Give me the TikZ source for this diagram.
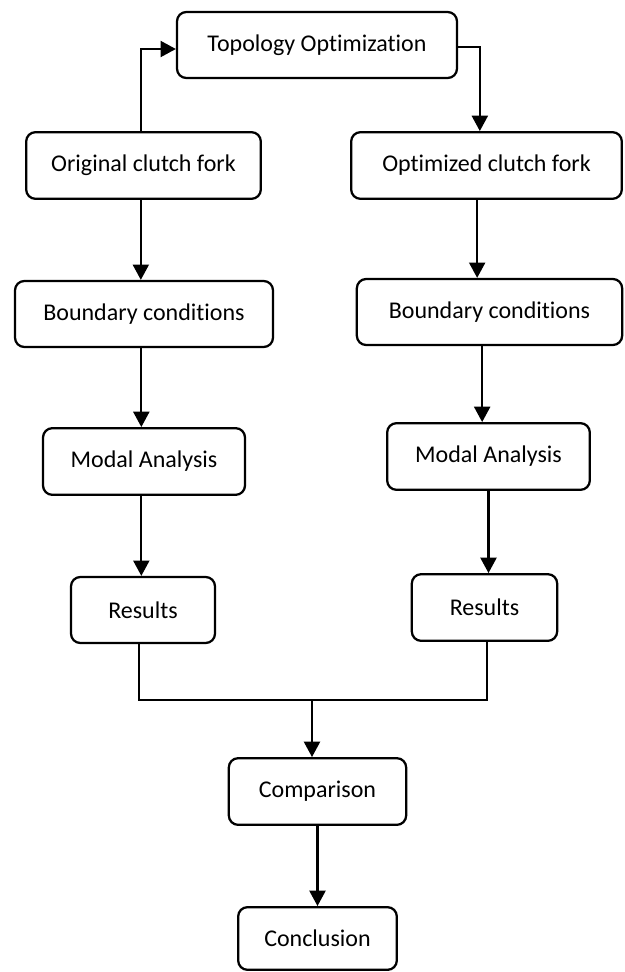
\documentclass[tikz,border=0pt]{standalone}
\usepackage{fontspec}
\setmainfont{Carlito}[Ligatures={NoCommon}]
\usetikzlibrary{arrows.meta}
\begin{document}
\begin{tikzpicture}[x=0.75pt,y=-0.75pt,
  box/.style={draw=black, line width=1.7pt, rounded corners=7pt, fill=white,
    inner sep=0pt, align=center, font=\fontsize{18pt}{21pt}\selectfont},
  conn/.style={line width=1.6pt, draw=black},
  arr/.style={conn, -{Triangle[width=12pt,length=11.5pt]}}]
\useasboundingbox (0,0) rectangle (625,972);
\node[box, minimum width=210pt, minimum height=49.5pt] (topo) at (317,45) {Topology Optimization};
\node[box, minimum width=176pt, minimum height=50pt] (orig) at (143.5,165.5) {Original clutch fork};
\node[box, minimum width=203pt, minimum height=50pt] (optz) at (486.5,165.5) {Optimized clutch fork};
\node[box, minimum width=193.5pt, minimum height=49.5pt] (bcL) at (144,314) {Boundary conditions};
\node[box, minimum width=199pt, minimum height=49.5pt] (bcR) at (489.5,312) {Boundary conditions};
\node[box, minimum width=151.5pt, minimum height=50pt] (maL) at (144,461.5) {Modal Analysis};
\node[box, minimum width=152pt, minimum height=50pt] (maR) at (488.5,456.5) {Modal Analysis};
\node[box, minimum width=108pt, minimum height=49.5pt] (resL) at (143,610) {Results};
\node[box, minimum width=109pt, minimum height=50pt] (resR) at (484.5,607.5) {Results};
\node[box, minimum width=133pt, minimum height=50pt] (comp) at (317.5,791.5) {Comparison};
\node[box, minimum width=119pt, minimum height=47pt] (concl) at (317.5,938.5) {Conclusion};
\coordinate (j) at (312,700);
% top connectors
\draw[arr] ([xshift=-2pt]orig.north) |- ([yshift=-3pt]topo.west);
\draw[arr] ([yshift=-1.5pt]topo.east) -| ([xshift=-5pt]optz.north);
% left column
\draw[arr] ([xshift=-2pt]orig.south) -- ([xshift=-2pt]orig.south |- bcL.north);
\draw[arr] ([xshift=-2pt]bcL.south) -- ([xshift=-2pt]bcL.south |- maL.north);
\draw[arr] ([xshift=-2pt]maL.south) -- ([xshift=-2pt]maL.south |- resL.north);
% right column
\draw[arr] ([xshift=-7pt]optz.south) -- ([xshift=-7pt]optz.south |- bcR.north);
\draw[arr] ([xshift=-5.5pt]bcR.south) -- ([xshift=-5.5pt]bcR.south |- maR.north);
\draw[arr] (maR.south) -- (maR.south |- resR.north);
% merge
\draw[conn] ([xshift=-3pt]resL.south) |- ([xshift=2pt]resR.south |- j) -- ([xshift=2pt]resR.south);
\draw[arr] (j) -- (j |- comp.north);
\draw[arr] (comp.south) -- (concl.north);
\end{tikzpicture}
\end{document}
